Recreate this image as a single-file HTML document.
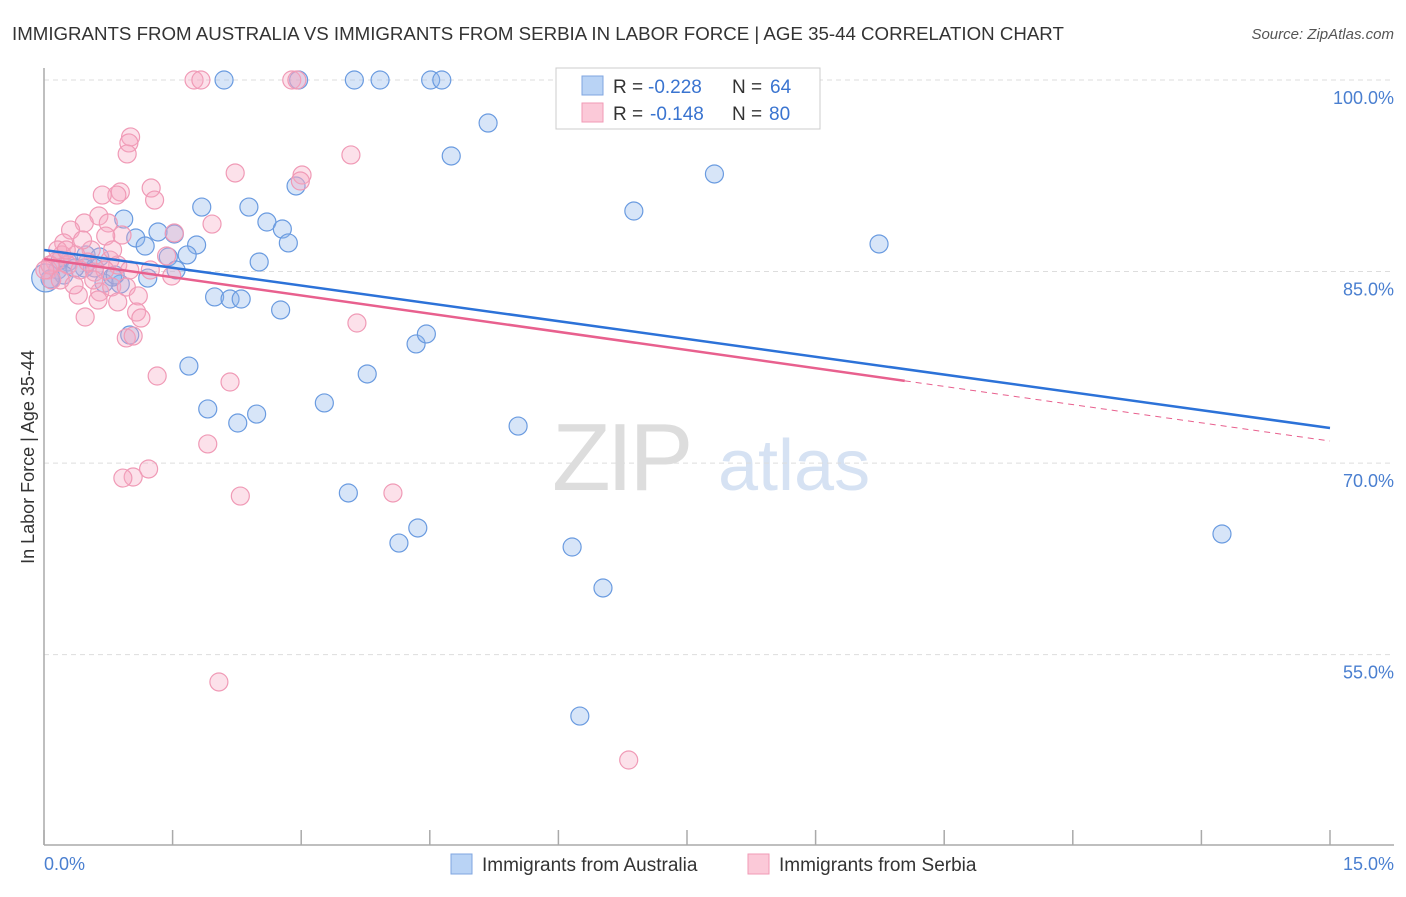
<!DOCTYPE html>
<html><head><meta charset="utf-8"><style>
body{margin:0;background:#fff;font-family:"Liberation Sans",sans-serif;}
svg text{font-family:"Liberation Sans",sans-serif;}
</style></head><body>
<svg id="chart" width="1406" height="892" xmlns="http://www.w3.org/2000/svg">
<text x="12" y="40" font-size="18.7" fill="#333">IMMIGRANTS FROM AUSTRALIA VS IMMIGRANTS FROM SERBIA IN LABOR FORCE | AGE 35-44 CORRELATION CHART</text>
<text x="1394" y="39" font-size="15" fill="#555" font-style="italic" text-anchor="end">Source: ZipAtlas.com</text>
<g>
<text x="552" y="490" font-size="96" fill="#ddd" font-family="Liberation Serif" letter-spacing="-4">ZIP</text>
<text x="718" y="490" font-size="72" fill="#d6e2f3">atlas</text>
</g>
<g id="grid"></g>
<line x1="44" y1="68" x2="44" y2="845" stroke="#aaa" stroke-width="1.5"/>
<line x1="44" y1="845" x2="1394" y2="845" stroke="#aaa" stroke-width="1.5"/>
<text transform="translate(34,457) rotate(-90)" font-size="18" fill="#333" text-anchor="middle">In Labor Force | Age 35-44</text>
<text x="44" y="870" font-size="18" fill="#4a7fd0">0.0%</text>
<text x="1394" y="870" font-size="18" fill="#4a7fd0" text-anchor="end">15.0%</text>
<g id="pts"></g>
<g id="trends"></g>
<g>
<rect x="556" y="68" width="264" height="61" fill="#fff" stroke="#ccc"/>
<rect x="582" y="76" width="21" height="19" fill="#b9d3f5" stroke="#7fa6e0"/>
<rect x="582" y="103" width="21" height="19" fill="#fbc9d8" stroke="#f09ab6"/>
<text x="613" y="93" font-size="19" fill="#333">R =</text>
<text x="648" y="93" font-size="19" fill="#3a74d0">-0.228</text>
<text x="732" y="93" font-size="19" fill="#333">N =</text>
<text x="770" y="93" font-size="19" fill="#3a74d0">64</text>
<text x="613" y="120" font-size="19" fill="#333">R =</text>
<text x="650" y="120" font-size="19" fill="#3a74d0">-0.148</text>
<text x="732" y="120" font-size="19" fill="#333">N =</text>
<text x="769" y="120" font-size="19" fill="#3a74d0">80</text>
</g>
<g>
<rect x="451" y="854" width="21" height="20" fill="#b9d3f5" stroke="#7fa6e0"/>
<text x="482" y="871" font-size="19" fill="#333">Immigrants from Australia</text>
<rect x="748" y="854" width="21" height="20" fill="#fbc9d8" stroke="#f09ab6"/>
<text x="779" y="871" font-size="19" fill="#333">Immigrants from Serbia</text>
</g>
</svg>
<script>
const yTicks=[100,85,70,55];
const yTickLabels=["100.0%","85.0%","70.0%","55.0%"];
const xTicks=[0,1.5,3,4.5,6,7.5,9,10.5,12,13.5,15];
const ausX=[2.10,2.97,3.62,3.92,4.51,4.64,5.18,4.75,7.82,6.88,9.74,2.94,2.39,1.84,2.60,2.78,2.85,0.93,1.07,1.18,1.33,1.52,1.78,1.67,1.45,1.54,2.51,1.21,0.89,0.80,0.70,0.47,0.59,0.28,0.16,0.07,1.99,2.17,2.30,2.76,1.00,1.69,1.91,2.26,2.48,3.27,3.77,4.34,4.46,5.53,3.55,4.14,4.36,6.16,6.52,6.25,13.74,0.19,0.36,0.49,0.65,0.23,0.83,0.02];
const ausY=[100,100,100,100,100,100,96.63,94.05,92.64,89.74,87.16,91.70,90.05,90.05,88.88,88.33,87.24,89.11,87.63,87.0,88.1,87.94,87.08,86.3,86.14,85.12,85.75,84.49,84.02,84.57,84.1,85.28,85.28,85.75,85.12,84.42,83.01,82.85,82.85,81.99,80.03,77.6,74.24,73.14,73.84,74.71,76.98,79.33,80.11,72.9,67.66,63.74,64.92,63.43,60.22,50.19,64.45,85.9,85.28,86.3,86.14,84.73,84.73,84.5];
const serX=[1.75,1.83,2.89,2.95,8.45,1.01,0.99,0.97,3.58,2.23,3.01,2.99,1.25,1.29,0.89,0.85,0.68,0.64,0.47,0.75,0.31,0.91,0.72,1.96,1.52,0.23,0.55,0.77,1.43,1.49,0.37,0.21,0.13,0.05,0.09,0.40,0.65,0.79,0.96,1.10,0.48,1.08,1.13,0.96,1.04,3.65,1.32,2.17,1.91,4.07,2.29,1.22,1.04,0.92,2.04,6.82,0.16,0.28,0.42,0.59,0.51,0.86,0.71,0.07,0.19,0.01,0.35,0.58,1.00,0.80,0.26,0.45,0.86,0.63,1.24];
const serY=[100,100,100,100,100,95.54,95.07,94.21,94.13,92.72,92.56,92.09,91.54,90.6,91.23,90.99,90.99,89.35,88.8,88.8,88.25,87.86,87.78,88.72,88.02,87.24,86.69,85.9,86.22,84.65,86.3,86.3,85.75,85.12,84.34,83.16,83.4,83.79,83.79,83.09,81.44,81.83,81.36,79.8,79.95,80.97,76.82,76.35,71.5,67.66,67.42,69.54,68.91,68.83,52.86,46.75,86.69,85.51,85.12,84.96,85.75,85.51,85.12,85.51,84.34,85.12,83.95,84.34,85.12,86.69,86.69,87.47,82.62,82.77,85.12];
const ausTrend=[86.69,72.75];
const serTrend=[85.98,71.73];
const serSolidEnd=10.04;
const NS='http://www.w3.org/2000/svg';
const X=v=>44+v*(1286/15);
const Y=v=>80+(100-v)*12.77;
function mk(t,a,p){const e=document.createElementNS(NS,t);for(const k in a)e.setAttribute(k,a[k]);p.appendChild(e);return e;}
const grid=document.getElementById('grid');
yTicks.forEach((t,i)=>{
 const l=mk('line',{x1:44,x2:1394,y1:Y(t),y2:Y(t),stroke:'#ddd','stroke-dasharray':'5,4'},grid);
 
 
 const tx=mk('text',{x:1394,y:Y(t)+24,'font-size':18,fill:'#4a7fd0','text-anchor':'end'},grid);
 tx.textContent=yTickLabels[i];
 
 
});
xTicks.forEach(t=>{
 const l=mk('line',{x1:X(t),x2:X(t),y1:830,y2:845,stroke:'#aaa','stroke-width':1.5},grid);
 
 
});
const pts=document.getElementById('pts');
ausX.forEach((x,i)=>{
 const c=mk('circle',{cx:X(x),cy:Y(ausY[i]),r:i===ausX.length-1?14:9,fill:'rgba(140,180,235,0.35)',stroke:'#6a9be0','stroke-width':1.2},pts);
 
 
});
serX.forEach((x,i)=>{
 const c=mk('circle',{cx:X(x),cy:Y(serY[i]),r:9,fill:'rgba(247,170,195,0.35)',stroke:'#f09ab6','stroke-width':1.2},pts);
 
 
});
const tr=document.getElementById('trends');
const lin=(a,x)=>a[0]+(a[1]-a[0])*x/15;
const b=mk('line',{x1:X(0),y1:Y(ausTrend[0]),x2:X(15),y2:Y(ausTrend[1]),stroke:'#2c72d8','stroke-width':2.5},tr);


const p1=mk('line',{x1:X(0),y1:Y(serTrend[0]),x2:X(serSolidEnd),y2:Y(lin(serTrend,serSolidEnd)),stroke:'#e8608e','stroke-width':2.5},tr);


const p2=mk('line',{x1:X(serSolidEnd),y1:Y(lin(serTrend,serSolidEnd)),x2:X(15),y2:Y(serTrend[1]),stroke:'#e8608e','stroke-width':1,'stroke-dasharray':'6,5'},tr);


</script>
</body></html>
